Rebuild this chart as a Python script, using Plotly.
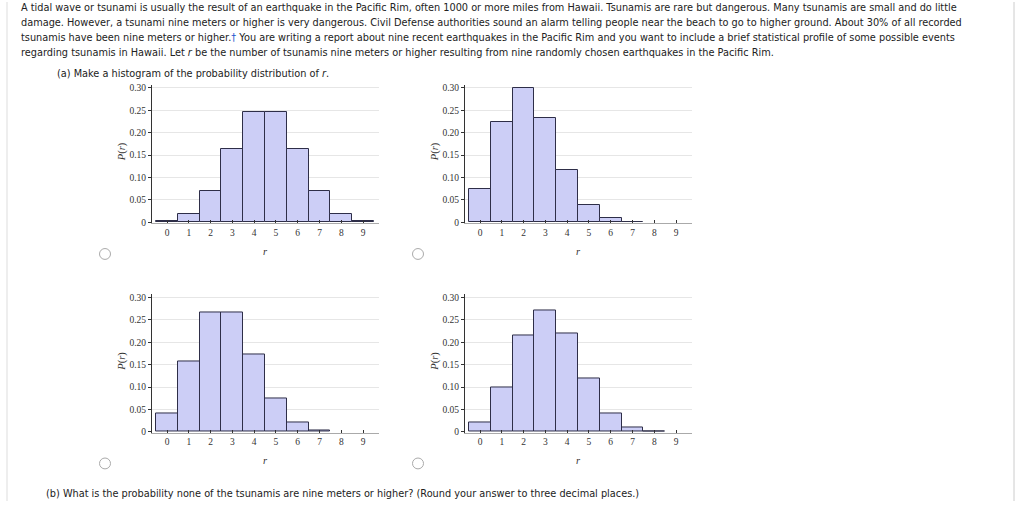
import plotly.graph_objects as go

W, H = 1024, 505

r_values = list(range(10))
# P(r) (n = 9)
probs_a = [0.002, 0.018, 0.070, 0.164, 0.246, 0.246, 0.164, 0.070, 0.018, 0.002]
probs_b = [0.075, 0.225, 0.300, 0.234, 0.117, 0.039, 0.009, 0.001, 0.0, 0.0]
probs_c = [0.040, 0.156, 0.267, 0.267, 0.172, 0.074, 0.021, 0.004, 0.0, 0.0]
probs_d = [0.021, 0.100, 0.216, 0.272, 0.219, 0.118, 0.042, 0.010, 0.001, 0.0]

y_tickvals = [0, 0.05, 0.10, 0.15, 0.20, 0.25, 0.30]
y_ticktext = ["0", "0.05", "0.10", "0.15", "0.20", "0.25", "0.30"]
x_ticktext = [str(v) for v in r_values]

text_lines = [
    "A tidal wave or tsunami is usually the result of an earthquake in the Pacific Rim, often 1000 or more miles from Hawaii. Tsunamis are rare but dangerous. Many tsunamis are small and do little",
    "damage. However, a tsunami nine meters or higher is very dangerous. Civil Defense authorities sound an alarm telling people near the beach to go to higher ground. About 30% of all recorded",
    "tsunamis have been nine meters or higher.<span style='color:#2255cc'>\u2020</span> You are writing a report about nine recent earthquakes in the Pacific Rim and you want to include a brief statistical profile of some possible events",
    "regarding tsunamis in Hawaii. Let <i>r</i> be the number of tsunamis nine meters or higher resulting from nine randomly chosen earthquakes in the Pacific Rim.",
]
part_a = "(a) Make a histogram of the probability distribution of <i>r</i>."
part_b = "(b) What is the probability none of the tsunamis are nine meters or higher? (Round your answer to three decimal places.)"

series = [probs_a, probs_b, probs_c, probs_d]

# panel geometry in pixels: (axis left x, top y of axis)
panels = [(152, 84), (465, 84), (152, 296), (465, 296)]
pw, ph = 227, 140

def px(x):
    return x / W

def py(y):
    return 1 - y / H

fig = go.Figure()
ann = []
shapes = []
serif = "Liberation Serif"
text_font = dict(family="DejaVu Sans", size=9.75, color="#222")

for i, (probs, (x0, y0)) in enumerate(zip(series, panels)):
    k = "" if i == 0 else str(i + 1)
    fig.add_trace(go.Bar(
        x=r_values, y=probs, width=1,
        marker=dict(color="rgb(204,206,246)",
                    line=dict(color="#2e2e48", width=[1 if p > 0 else 0 for p in probs])),
        xaxis="x" + k, yaxis="y" + k, showlegend=False, hoverinfo="x+y",
    ))
    fig.layout["xaxis" + k] = dict(
        domain=[px(x0), px(x0 + pw)], anchor="y" + k,
        range=[-0.69, 9.73], tickvals=r_values, ticktext=x_ticktext,
        ticks="inside", ticklen=3, tickcolor="#333", showgrid=False,
        showline=True, linecolor="#aaa", linewidth=1, zeroline=False,
        tickfont=dict(family=serif, size=9.5, color="#333"), fixedrange=True,
    )
    fig.layout["yaxis" + k] = dict(
        domain=[py(y0 + ph), py(y0)], anchor="x" + k,
        range=[-0.0022, 0.3066], tickvals=y_tickvals, ticktext=y_ticktext,
        ticks="outside", ticklen=3, tickcolor="#333",
        showgrid=True, gridcolor="#e6e6e6", gridwidth=1,
        showline=True, linecolor="#333", linewidth=1, zeroline=False,
        tickfont=dict(family=serif, size=9.5, color="#333"), fixedrange=True,
    )
    # axis titles
    ann.append(dict(x=px(x0 - 30), y=py(y0 + 68), xref="paper", yref="paper",
                    xanchor="center", yanchor="middle",
                    text="<i>P</i>(<i>r</i>)", textangle=-90, showarrow=False,
                    font=dict(family=serif, size=10.5, color="#333")))
    ann.append(dict(x=px(x0 + pw / 2), y=py(y0 + 168), xref="paper", yref="paper",
                    xanchor="center", yanchor="middle",
                    text="<i>r</i>", showarrow=False,
                    font=dict(family=serif, size=10.5, color="#333")))
    # radio button
    cx, cy = x0 - 47, y0 + 171
    shapes.append(dict(type="circle", xref="paper", yref="paper",
                       x0=px(cx - 5.5), x1=px(cx + 5.5), y0=py(cy + 5.5), y1=py(cy - 5.5),
                       line=dict(color="#aaa", width=1), fillcolor="white"))

line_y = [6, 21, 36, 51]
for t, yy in zip(text_lines, line_y):
    ann.append(dict(x=px(19), y=py(yy), xref="paper", yref="paper", text=t,
                    xanchor="left", yanchor="middle", showarrow=False, font=text_font))
ann.append(dict(x=px(55), y=py(72), xref="paper", yref="paper", text=part_a,
                xanchor="left", yanchor="middle", showarrow=False, font=text_font))
ann.append(dict(x=px(44), y=py(497), xref="paper", yref="paper", text=part_b,
                xanchor="left", yanchor="middle", showarrow=False, font=text_font))

# page borders
shapes.append(dict(type="line", xref="paper", yref="paper", x0=px(7), x1=px(7), y0=0, y1=1,
                   line=dict(color="#ddd", width=1)))
shapes.append(dict(type="line", xref="paper", yref="paper", x0=px(1014), x1=px(1014), y0=0, y1=1,
                   line=dict(color="#ccc", width=1)))

fig.update_layout(
    width=W, height=H, margin=dict(l=0, r=0, t=0, b=0),
    paper_bgcolor="white", plot_bgcolor="white",
    annotations=ann, shapes=shapes, bargap=0,
)
fig.write_html(
    "out.html",
    config={"displayModeBar": False},
    post_script="document.body.style.margin='0';document.body.style.overflow='hidden';",
)
